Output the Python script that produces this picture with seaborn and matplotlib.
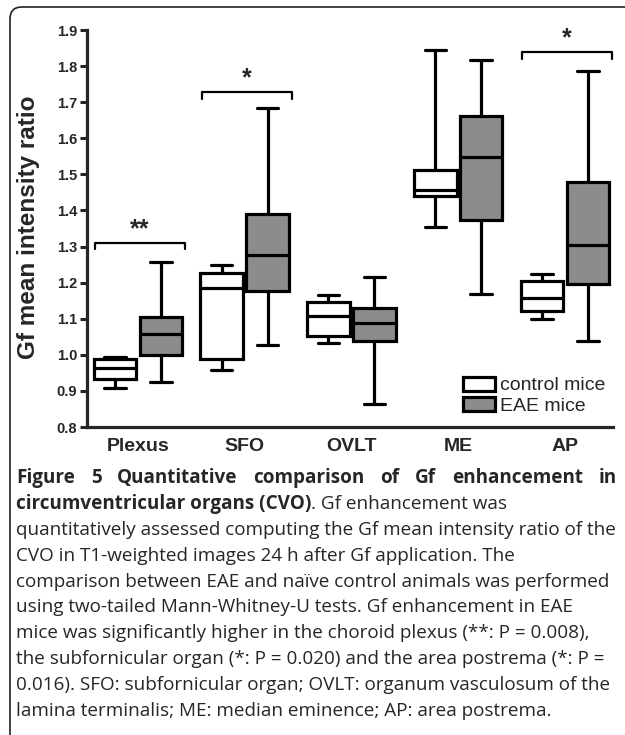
import numpy as np
import pandas as pd
import matplotlib
matplotlib.use("Agg")
import matplotlib.pyplot as plt
import seaborn as sns
from matplotlib.path import Path
from matplotlib.patches import PathPatch


organs = ["Plexus", "SFO", "OVLT", "ME", "AP"]
groups = ["control mice", "EAE mice"]

# five-number summaries: min, q1, median, q3, max
control = [
    [0.908, 0.933, 0.964, 0.989, 0.994],
    [0.958, 0.989, 1.185, 1.227, 1.249],
    [1.033, 1.052, 1.108, 1.147, 1.166],
    [1.354, 1.440, 1.457, 1.512, 1.845],
    [1.100, 1.122, 1.158, 1.205, 1.224],
]
eae = [
    [0.925, 1.000, 1.058, 1.105, 1.257],
    [1.027, 1.177, 1.277, 1.390, 1.684],
    [0.864, 1.039, 1.088, 1.130, 1.216],
    [1.169, 1.374, 1.548, 1.662, 1.817],
    [1.039, 1.196, 1.304, 1.479, 1.786],
]

# significance brackets
sig_organs = ["Plexus", "SFO", "AP"]
sig_labels = ["**", "*", "*"]
sig_levels = [1.31, 1.728, 1.839]

yticks = [0.8, 0.9, 1.0, 1.1, 1.2, 1.3, 1.4, 1.5, 1.6, 1.7, 1.8, 1.9]

caption_title = ["Figure", "5", "Quantitative", "comparison", "of", "Gf",
                 "enhancement", "in"]
caption_bold2 = "circumventricular organs (CVO)"
caption_rest2 = ". Gf enhancement was"
caption_lines = [
    "quantitatively assessed computing the Gf mean intensity ratio of the",
    "CVO in T1-weighted images 24 h after Gf application. The",
    "comparison between EAE and naïve control animals was performed",
    "using two-tailed Mann-Whitney-U tests. Gf enhancement in EAE",
    "mice was significantly higher in the choroid plexus (**: P = 0.008),",
    "the subfornicular organ (*: P = 0.020) and the area postrema (*: P =",
    "0.016). SFO: subfornicular organ; OVLT: organum vasculosum of the",
    "lamina terminalis; ME: median eminence; AP: area postrema.",
]


# long table for seaborn
rows = []
for organ, c, e in zip(organs, control, eae):
    for v in c:
        rows.append((organ, groups[0], v))
    for v in e:
        rows.append((organ, groups[1], v))
df = pd.DataFrame(rows, columns=["organ", "group", "ratio"])

sns.set_style("ticks")
plt.rcParams["font.family"] = ["Liberation Sans", "DejaVu Sans"]

W, H = 625, 735
fig = plt.figure(figsize=(W / 100, H / 100), dpi=100)
ax = fig.add_axes([87 / W, 1 - 427 / H, 526 / W, 397 / H])

sns.boxplot(
    data=df, x="organ", y="ratio", hue="group",
    order=organs, hue_order=groups,
    palette={"control mice": "white", "EAE mice": "#8c8c8c"},
    whis=(0, 100), width=0.86, gap=0.07,
    linecolor="black", linewidth=2.3,
    ax=ax
)

# brackets + stars
for organ, lab, lvl in zip(sig_organs, sig_labels, sig_levels):
    i = organs.index(organ)
    x0, x1 = i - 0.40, i + 0.44
    ax.plot([x0, x0, x1, x1], [lvl - 0.018, lvl, lvl, lvl - 0.018],
            color="black", lw=1.6, clip_on=False)
    ax.text(i + 0.02, lvl + 0.004, lab, ha="center", va="bottom",
            fontsize=18, fontweight="bold")

ax.set_ylim(0.8, 1.9)
ax.set_xlim(-0.477, 4.45)
ax.set_yticks(yticks)
ax.set_yticklabels([f"{t:.1f}" for t in yticks], fontsize=10.5,
                   fontweight="bold")
ax.set_xticks(range(len(organs)))
ax.set_xticklabels(organs, fontsize=14, fontweight="bold")
ax.tick_params(axis="y", width=2.2, length=5, pad=2)
ax.tick_params(axis="x", length=0, pad=8)
ax.set_xlabel("")
ax.set_ylabel("Gf mean intensity ratio", fontsize=17.5, fontweight="bold")
ax.yaxis.set_label_coords(-0.089, 0.504)
for s in ["left", "bottom"]:
    ax.spines[s].set_linewidth(2.3)
sns.despine(ax=ax)

ax.legend(loc="lower right", bbox_to_anchor=(0.985, 0.03), frameon=False,
          fontsize=14, handlelength=1.65, handleheight=0.72,
          handletextpad=0.25, labelspacing=0.15, borderaxespad=0,
          borderpad=0)

# caption frame: left and top edges only, rounded top-left corner (inches)
x_l, y_t, r = 0.10, (H - 7) / 100, 0.12
verts = [(x_l, -0.1), (x_l, y_t - r), (x_l, y_t), (x_l + r, y_t),
         (W / 100 + 0.1, y_t)]
codes = [Path.MOVETO, Path.LINETO, Path.CURVE3, Path.CURVE3, Path.LINETO]
frame = PathPatch(Path(verts, codes), transform=fig.dpi_scale_trans,
                  fill=False, edgecolor="#222222", lw=1.2)
fig.add_artist(frame)

# caption text
cap_font = ["Open Sans", "DejaVu Sans"]
cap_size = 13.6
left, right = 16, 617
base0, step = 483, 25.9
renderer = fig.canvas.get_renderer()


def px(x, y):
    return x / W, 1 - y / H


# first line, justified
words = []
for w in caption_title:
    t = fig.text(0, 0, w, fontsize=cap_size, fontweight="bold",
                 family=cap_font, va="baseline")
    words.append(t)
widths = [t.get_window_extent(renderer).width for t in words]
gap = (right - left - sum(widths)) / (len(words) - 1)
x = left
for t, wd in zip(words, widths):
    t.set_position(px(x, base0))
    x += wd + gap

# second line, bold start + regular
t = fig.text(*px(left, base0 + step), caption_bold2, fontsize=cap_size,
             fontweight="bold", family=cap_font, va="baseline")
wd = t.get_window_extent(renderer).width
fig.text(*px(left + wd, base0 + step), caption_rest2, fontsize=cap_size,
         family=cap_font, va="baseline")

for k, line in enumerate(caption_lines):
    fig.text(*px(left, base0 + step * (k + 2)), line, fontsize=cap_size,
             family=cap_font, va="baseline")

fig.savefig("out.png", dpi=100)
